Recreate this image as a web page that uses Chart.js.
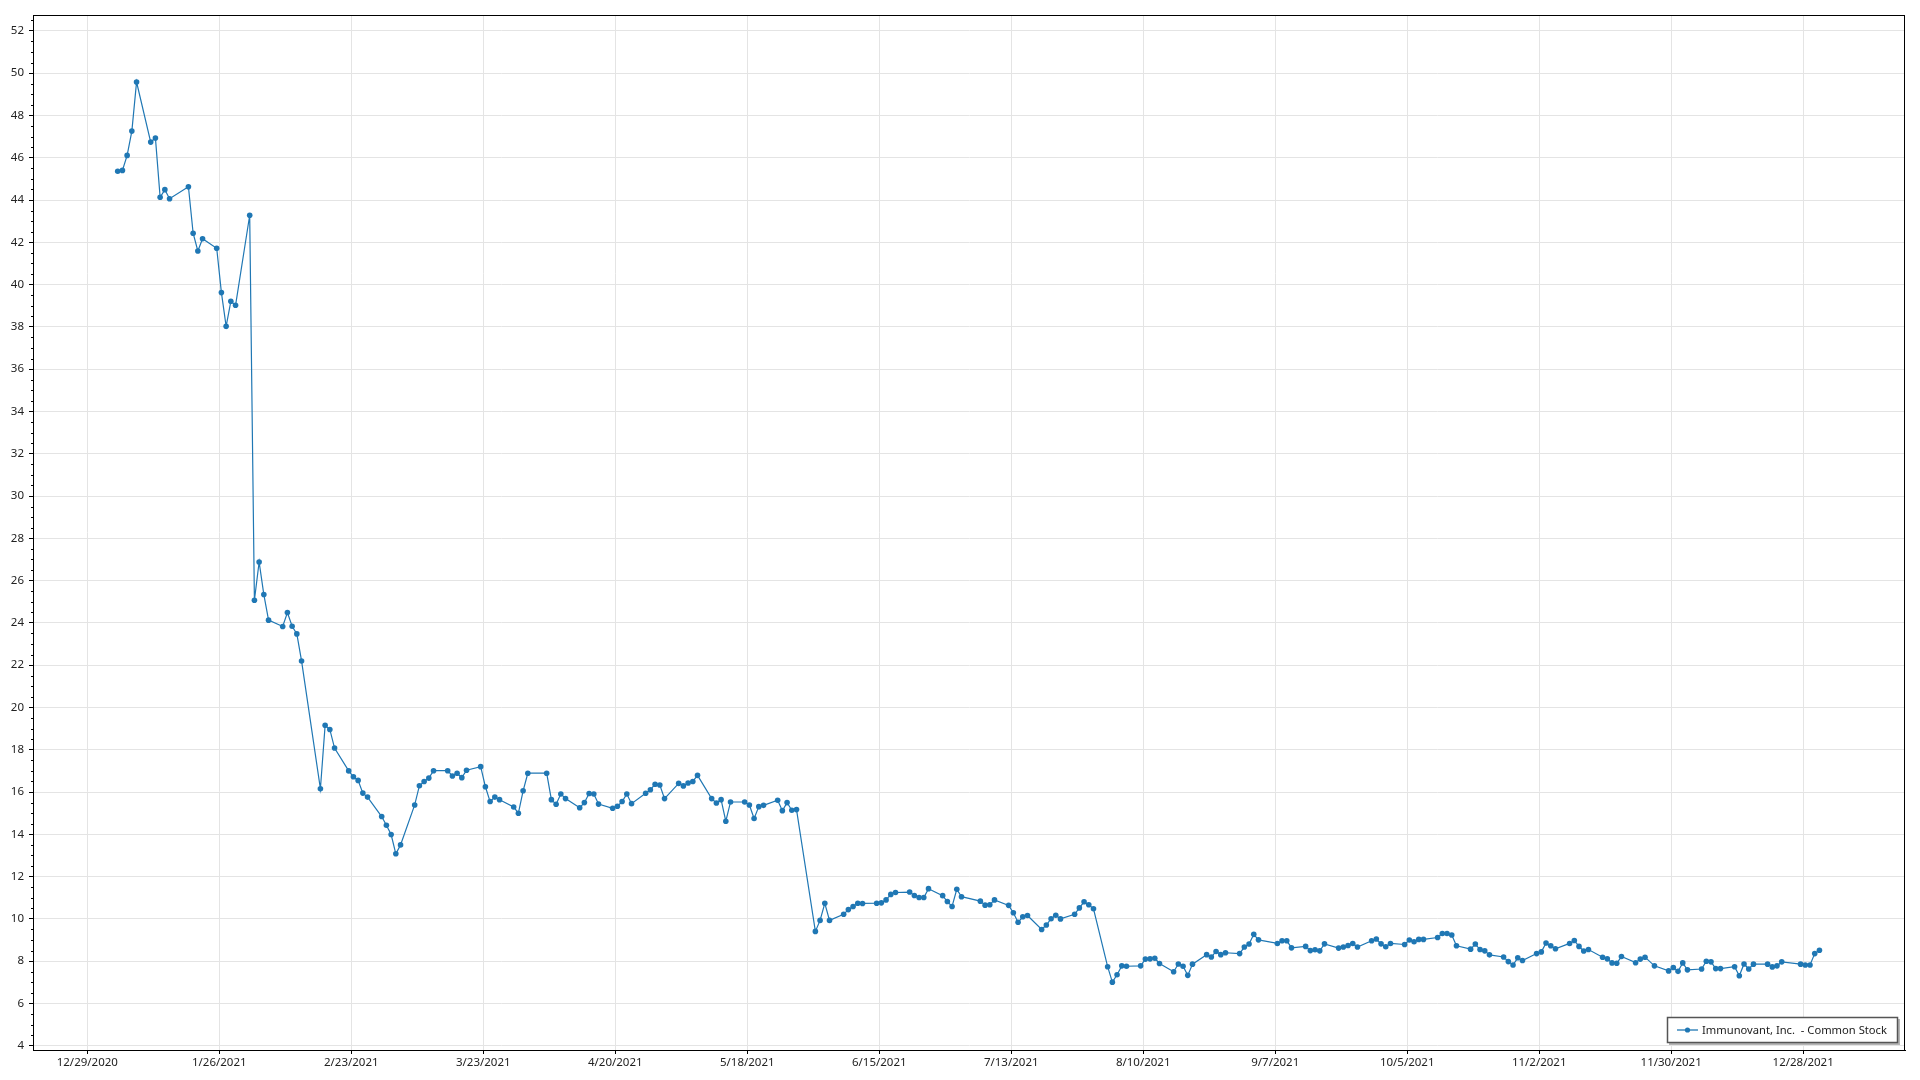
<!DOCTYPE html>
<html>
<head>
<meta charset="utf-8">
<title>Immunovant, Inc. - Common Stock</title>
<script src="https://cdn.jsdelivr.net/npm/chart.js@4.4.1/dist/chart.umd.min.js"></script>
<style>
  html, body { margin: 0; padding: 0; background: #fff; }
  #wrap { width: 1920px; height: 1080px; position: relative; }
</style>
</head>
<body>
<div id="wrap"><canvas id="chartGia"></canvas></div>
<script>
// trading days of 2021 (one entry per point)
const dates = [
  "2021-01-04","2021-01-05","2021-01-06","2021-01-07","2021-01-08","2021-01-11","2021-01-12","2021-01-13","2021-01-14","2021-01-15",
  "2021-01-19","2021-01-20","2021-01-21","2021-01-22","2021-01-25","2021-01-26","2021-01-27","2021-01-28","2021-01-29",
  "2021-02-01","2021-02-02","2021-02-03","2021-02-04","2021-02-05","2021-02-08","2021-02-09","2021-02-10","2021-02-11","2021-02-12",
  "2021-02-16","2021-02-17","2021-02-18","2021-02-19","2021-02-22","2021-02-23","2021-02-24","2021-02-25","2021-02-26",
  "2021-03-01","2021-03-02","2021-03-03","2021-03-04","2021-03-05","2021-03-08","2021-03-09","2021-03-10","2021-03-11","2021-03-12",
  "2021-03-15","2021-03-16","2021-03-17","2021-03-18","2021-03-19","2021-03-22","2021-03-23","2021-03-24","2021-03-25","2021-03-26",
  "2021-03-29","2021-03-30","2021-03-31",
  "2021-04-01","2021-04-05","2021-04-06","2021-04-07","2021-04-08","2021-04-09","2021-04-12","2021-04-13","2021-04-14","2021-04-15",
  "2021-04-16","2021-04-19","2021-04-20","2021-04-21","2021-04-22","2021-04-23","2021-04-26","2021-04-27","2021-04-28","2021-04-29","2021-04-30",
  "2021-05-03","2021-05-04","2021-05-05","2021-05-06","2021-05-07","2021-05-10","2021-05-11","2021-05-12","2021-05-13","2021-05-14",
  "2021-05-17","2021-05-18","2021-05-19","2021-05-20","2021-05-21","2021-05-24","2021-05-25","2021-05-26","2021-05-27","2021-05-28",
  "2021-06-01","2021-06-02","2021-06-03","2021-06-04","2021-06-07","2021-06-08","2021-06-09","2021-06-10","2021-06-11",
  "2021-06-14","2021-06-15","2021-06-16","2021-06-17","2021-06-18","2021-06-21","2021-06-22","2021-06-23","2021-06-24","2021-06-25",
  "2021-06-28","2021-06-29","2021-06-30",
  "2021-07-01","2021-07-02","2021-07-06","2021-07-07","2021-07-08","2021-07-09","2021-07-12","2021-07-13","2021-07-14","2021-07-15","2021-07-16",
  "2021-07-19","2021-07-20","2021-07-21","2021-07-22","2021-07-23","2021-07-26","2021-07-27","2021-07-28","2021-07-29","2021-07-30",
  "2021-08-02","2021-08-03","2021-08-04","2021-08-05","2021-08-06","2021-08-09","2021-08-10","2021-08-11","2021-08-12","2021-08-13",
  "2021-08-16","2021-08-17","2021-08-18","2021-08-19","2021-08-20","2021-08-23","2021-08-24","2021-08-25","2021-08-26","2021-08-27",
  "2021-08-30","2021-08-31",
  "2021-09-01","2021-09-02","2021-09-03","2021-09-07","2021-09-08","2021-09-09","2021-09-10","2021-09-13","2021-09-14","2021-09-15",
  "2021-09-16","2021-09-17","2021-09-20","2021-09-21","2021-09-22","2021-09-23","2021-09-24","2021-09-27","2021-09-28","2021-09-29","2021-09-30",
  "2021-10-01","2021-10-04","2021-10-05","2021-10-06","2021-10-07","2021-10-08","2021-10-11","2021-10-12","2021-10-13","2021-10-14",
  "2021-10-15","2021-10-18","2021-10-19","2021-10-20","2021-10-21","2021-10-22","2021-10-25","2021-10-26","2021-10-27","2021-10-28","2021-10-29",
  "2021-11-01","2021-11-02","2021-11-03","2021-11-04","2021-11-05","2021-11-08","2021-11-09","2021-11-10","2021-11-11","2021-11-12",
  "2021-11-15","2021-11-16","2021-11-17","2021-11-18","2021-11-19","2021-11-22","2021-11-23","2021-11-24","2021-11-26","2021-11-29","2021-11-30",
  "2021-12-01","2021-12-02","2021-12-03","2021-12-06","2021-12-07","2021-12-08","2021-12-09","2021-12-10","2021-12-13","2021-12-14",
  "2021-12-15","2021-12-16","2021-12-17","2021-12-20","2021-12-21","2021-12-22","2021-12-23","2021-12-27","2021-12-28","2021-12-29",
  "2021-12-30","2021-12-31"
];

// closing prices, same order as dates
const prices = [
  45.36, 45.40, 46.11, 47.26, 49.58, 46.74, 46.93, 44.13, 44.49, 44.06,
  44.63, 42.43, 41.59, 42.17, 41.72, 39.62, 38.03, 39.21, 39.02,
  43.28, 25.07, 26.88, 25.34, 24.13, 23.83, 24.49, 23.84, 23.48, 22.20,
  16.15, 19.16, 18.96, 18.08, 17.00, 16.72, 16.55, 15.95, 15.76,
  14.84, 14.43, 13.99, 13.08, 13.50, 15.39, 16.30, 16.50, 16.66, 17.01,
  17.01, 16.76, 16.89, 16.68, 17.03, 17.20, 16.25, 15.55, 15.76, 15.64,
  15.29, 15.00, 16.06,
  16.89, 16.89, 15.64, 15.42, 15.91, 15.69, 15.26, 15.50, 15.93, 15.91,
  15.43, 15.23, 15.33, 15.55, 15.91, 15.45, 15.94, 16.11, 16.37, 16.33, 15.69,
  16.41, 16.29, 16.43, 16.50, 16.79, 15.69, 15.48, 15.64, 14.62, 15.53,
  15.53, 15.39, 14.75, 15.31, 15.37, 15.61, 15.12, 15.50, 15.14, 15.17,
  9.41, 9.93, 10.74, 9.93, 10.22, 10.44, 10.59, 10.74, 10.73,
  10.74, 10.76, 10.90, 11.16, 11.25, 11.27, 11.11, 11.01, 11.01, 11.43,
  11.10, 10.82, 10.59,
  11.40, 11.05, 10.84, 10.65, 10.67, 10.90, 10.64, 10.29, 9.84, 10.10, 10.16,
  9.50, 9.71, 10.01, 10.17, 10.00, 10.22, 10.52, 10.81, 10.67, 10.48,
  7.74, 7.01, 7.36, 7.78, 7.76, 7.78, 8.10, 8.11, 8.14, 7.89,
  7.50, 7.87, 7.76, 7.33, 7.86, 8.31, 8.20, 8.46, 8.31, 8.40,
  8.36, 8.67,
  8.81, 9.27, 9.01, 8.84, 8.97, 8.97, 8.63, 8.70, 8.50, 8.54,
  8.49, 8.82, 8.62, 8.67, 8.74, 8.84, 8.67, 8.97, 9.05, 8.82, 8.68,
  8.84, 8.79, 9.00, 8.92, 9.03, 9.03, 9.12, 9.31, 9.31, 9.24,
  8.73, 8.57, 8.81, 8.55, 8.49, 8.30, 8.20, 7.98, 7.82, 8.16, 8.03,
  8.36, 8.44, 8.86, 8.73, 8.59, 8.84, 8.98, 8.70, 8.48, 8.55,
  8.19, 8.11, 7.92, 7.90, 8.22, 7.93, 8.10, 8.19, 7.78, 7.54, 7.70,
  7.52, 7.92, 7.59, 7.63, 8.00, 7.97, 7.65, 7.65, 7.74, 7.31,
  7.87, 7.63, 7.86, 7.86, 7.73, 7.78, 7.97, 7.86, 7.82, 7.82,
  8.36, 8.52
];

const xTickLabels = ["12/29/2020", "1/26/2021", "2/23/2021", "3/23/2021", "4/20/2021", "5/18/2021", "6/15/2021",
  "7/13/2021", "8/10/2021", "9/7/2021", "10/5/2021", "11/2/2021", "11/30/2021", "12/28/2021"];
const yTicks = [4, 6, 8, 10, 12, 14, 16, 18, 20, 22, 24, 26, 28, 30, 32, 34, 36, 38, 40, 42, 44, 46, 48, 50, 52];
const seriesName = "Immunovant, Inc.  - Common Stock";

const lineColor = "rgb(31, 119, 180)";
const fontFamily = "'Noto Sans', 'Open Sans', sans-serif";
// quotes are stamped late in the morning, not at midnight
const quoteTimeOfDay = 0.45;

// date -> day number
function isoToDay(s) {
  const p = s.split("-").map(Number);
  return Date.UTC(p[0], p[1] - 1, p[2]) / 86400000;
}
function mdyToDay(s) {
  const p = s.split("/").map(Number);
  return Date.UTC(p[2], p[0] - 1, p[1]) / 86400000;
}

const xTickValues = xTickLabels.map(mdyToDay);
const points = dates.map((d, i) => ({ x: isoToDay(d) + quoteTimeOfDay, y: prices[i] }));

// khung + vạch phụ trục Y + chú thích
const framePlugin = {
  id: "framePlugin",
  afterDraw(chart) {
    const ctx = chart.ctx;
    const a = chart.chartArea;
    const ys = chart.scales.y;
    ctx.save();

    ctx.strokeStyle = "#000";
    ctx.lineWidth = 1;
    ctx.strokeRect(a.left + 0.5, a.top + 0.5, a.right - a.left - 1, a.bottom - a.top);

    // minor ticks
    ctx.beginPath();
    for (let v = 4; v <= 52.5; v += 0.5) {
      if (v % 2 === 0) continue;
      const py = Math.round(ys.getPixelForValue(v)) + 0.5;
      ctx.moveTo(a.left - 2, py);
      ctx.lineTo(a.left, py);
    }
    ctx.stroke();

    // legend
    ctx.font = "11.2px " + fontFamily;
    const tw = ctx.measureText(seriesName).width;
    const bw = Math.round(35 + tw + 11);
    const bh = 26;
    const bx = Math.round(a.right - 7 - bw);
    const by = Math.round(a.bottom - 7 - bh);
    ctx.fillStyle = "#b5b5b5";
    ctx.fillRect(bx + 2, by + 2, bw, bh);
    ctx.fillStyle = "#fff";
    ctx.fillRect(bx, by, bw, bh);
    ctx.strokeStyle = "#555";
    ctx.lineWidth = 1.5;
    ctx.strokeRect(bx + 0.5, by + 0.5, bw - 1, bh - 1);

    const cy = by + bh / 2;
    ctx.strokeStyle = lineColor;
    ctx.lineWidth = 1.3;
    ctx.beginPath();
    ctx.moveTo(bx + 10, cy);
    ctx.lineTo(bx + 31, cy);
    ctx.stroke();
    ctx.fillStyle = lineColor;
    ctx.beginPath();
    ctx.arc(bx + 20.5, cy, 2.6, 0, Math.PI * 2);
    ctx.fill();

    ctx.fillStyle = "#1a1a1a";
    ctx.textBaseline = "middle";
    ctx.textAlign = "left";
    ctx.fillText(seriesName, bx + 35, cy + 0.5);
    ctx.restore();
  }
};

const ctx = document.getElementById("chartGia").getContext("2d");
const chart = new Chart(ctx, {
  type: "line",
  data: {
    datasets: [{
      label: seriesName,
      data: points,
      borderColor: lineColor,
      backgroundColor: lineColor,
      borderWidth: 1.2,
      pointRadius: 2.8,
      pointBorderWidth: 0,
      pointBackgroundColor: lineColor,
      tension: 0,
      fill: false
    }]
  },
  options: {
    responsive: true,
    maintainAspectRatio: false,
    animation: false,
    devicePixelRatio: 1,
    layout: { padding: { top: 15, right: 15, left: 0, bottom: 0 } },
    plugins: {
      legend: { display: false },
      tooltip: { enabled: false }
    },
    scales: {
      x: {
        type: "linear",
        min: xTickValues[0] - 11.52,
        max: xTickValues[0] + 385.6,
        afterBuildTicks(scale) {
          scale.ticks = xTickValues.map(v => ({ value: v }));
        },
        afterFit(scale) { scale.height = 30; },
        ticks: {
          autoSkip: false,
          maxRotation: 0,
          padding: 2,
          color: "#222",
          font: { family: fontFamily, size: 11.5 },
          callback: (v, i) => xTickLabels[i]
        },
        grid: { color: "#e4e4e4", tickColor: "#000", tickLength: 4, lineWidth: 1 },
        border: { color: "#000", width: 1 }
      },
      y: {
        min: 3.8,
        max: 52.75,
        afterBuildTicks(scale) {
          scale.ticks = yTicks.map(v => ({ value: v }));
        },
        afterFit(scale) { scale.width = 33; },
        ticks: {
          padding: 5,
          color: "#222",
          font: { family: fontFamily, size: 11.5 },
          callback: v => String(v)
        },
        grid: { color: "#e4e4e4", tickColor: "#000", tickLength: 4, lineWidth: 1 },
        border: { color: "#000", width: 1 }
      }
    }
  },
  plugins: [framePlugin]
});
</script>
</body>
</html>
